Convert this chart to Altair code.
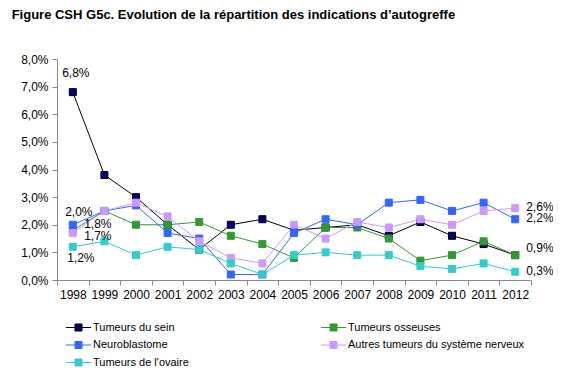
import altair as alt
import pandas as pd

years = [str(y) for y in range(1998, 2013)]
series_names = [
    "Tumeurs du sein",
    "Tumeurs osseuses",
    "Neuroblastome",
    "Autres tumeurs du système nerveux",
    "Tumeurs de l'ovaire",
]
sein = [6.8, 3.8, 3.0, 2.0, 1.1, 2.0, 2.2, 1.8, 1.9, 2.0, 1.6, 2.1, 1.6, 1.3, 0.9]
osseuses = [1.8, 2.5, 2.0, 2.0, 2.1, 1.6, 1.3, 0.8, 1.9, 1.9, 1.5, 0.7, 0.9, 1.4, 0.9]
neuro = [2.0, 2.5, 2.7, 1.7, 1.5, 0.2, 0.2, 1.7, 2.2, 2.0, 2.8, 2.9, 2.5, 2.8, 2.2]
autres = [1.7, 2.5, 2.8, 2.3, 1.4, 0.8, 0.6, 2.0, 1.5, 2.1, 1.9, 2.2, 2.0, 2.5, 2.6]
ovaire = [1.2, 1.4, 0.9, 1.2, 1.1, 0.6, 0.2, 0.9, 1.0, 0.9, 0.9, 0.5, 0.4, 0.6, 0.3]

line_colors = ["#000000", "#339933", "#3366FF", "#CC99FF", "#33CCCC"]
fill_colors = ["#000080", "#339933", "#3366FF", "#CC99FF", "#33CCCC"]

rows = []
for si, (name, vals) in enumerate(zip(series_names, [sein, osseuses, neuro, autres, ovaire])):
    for y, v in zip(years, vals):
        rows.append({"serie": name, "annee": y, "valeur": v, "ordre": si})
df = pd.DataFrame(rows)

# labels: (serie, year, text)
label_series = ["Tumeurs du sein", "Neuroblastome", "Tumeurs osseuses",
                "Autres tumeurs du système nerveux", "Tumeurs de l'ovaire",
                "Autres tumeurs du système nerveux", "Neuroblastome",
                "Tumeurs osseuses", "Tumeurs de l'ovaire"]
label_years = ["1998", "1998", "1998", "1998", "1998", "2012", "2012", "2012", "2012"]
label_texts = ["6,8%", "2,0%", "1,8%", "1,7%", "1,2%", "2,6%", "2,2%", "0,9%", "0,3%"]
label_offsets = [(3, -19, "center"), (6, -13, "center"), (25, -6, "center"),
                 (25, 3, "center"), (8, 11, "center"),
                 (11, -1, "left"), (11, -1, "left"), (11, -7, "left"), (11, -1, "left")]

lab_rows = []
for i, (s, y, t) in enumerate(zip(label_series, label_years, label_texts)):
    v = df[(df.serie == s) & (df.annee == y)].valeur.iloc[0]
    lab_rows.append({"k": i, "serie": s, "annee": y, "valeur": v, "txt": t})
lab_df = pd.DataFrame(lab_rows)

FONT = "Liberation Sans"

x_enc = alt.X("annee:O", title=None,
              scale=alt.Scale(type="band", paddingInner=0, paddingOuter=0),
              axis=alt.Axis(labelAngle=0, tickBand="extent", domainColor="#888888",
                            tickColor="#888888", tickSize=5, labelFontSize=12,
                            labelFont=FONT, labelColor="#000000", labelPadding=4,
                            grid=False))
y_enc = alt.Y("valeur:Q", title=None,
              scale=alt.Scale(domain=[0, 8], nice=False),
              axis=alt.Axis(values=[0, 1, 2, 3, 4, 5, 6, 7, 8],
                            labelExpr="replace(format(datum.value, '.1f'), '.', ',') + '%'",
                            domainColor="#888888", tickColor="#888888", tickSize=5,
                            labelFontSize=12, labelFont=FONT, labelColor="#000000",
                            labelPadding=4, grid=False))

sym_path = "M-3.6,0L3.6,0M-1,-1L1,-1L1,1L-1,1Z"

legend = alt.Legend(title=None, orient="none", legendX=4, legendY=263, columns=2,
                    direction="horizontal",
                    columnPadding=127, rowPadding=5.5, symbolType=sym_path,
                    symbolSize=49, symbolStrokeWidth=1, symbolOffset=12,
                    labelOffset=9, labelFontSize=11, labelFont=FONT,
                    labelColor="#000000", labelLimit=300)

lines = alt.Chart(df).mark_line(strokeWidth=1).encode(
    x=x_enc, y=y_enc,
    detail="serie:N",
    stroke=alt.Stroke("serie:N", sort=series_names,
                      scale=alt.Scale(domain=series_names, range=line_colors),
                      legend=legend),
    order="ordre:Q",
)

points = alt.Chart(df).mark_point(shape="square", filled=True, size=49,
                                   strokeWidth=1, opacity=1).encode(
    x=x_enc, y=y_enc,
    fill=alt.Fill("serie:N", sort=series_names,
                  scale=alt.Scale(domain=series_names, range=fill_colors),
                  legend=legend),
    stroke=alt.Stroke("serie:N", sort=series_names,
                      scale=alt.Scale(domain=series_names, range=line_colors),
                      legend=legend),
    order="ordre:Q",
)

text_layers = []
for i, (dx, dy, al) in enumerate(label_offsets):
    text_layers.append(
        alt.Chart(lab_df).transform_filter(alt.datum.k == i).mark_text(
            dx=dx, dy=dy, align=al, baseline="middle", fontSize=12, font=FONT,
            color="#000000").encode(x=x_enc, y=y_enc, text="txt:N")
    )

chart = alt.layer(lines, points, *text_layers).properties(
    width=474, height=221,
    autosize=alt.AutoSizeParams(type="none"),
    padding={"left": 49, "top": 51, "right": 22, "bottom": 92},
    title=alt.TitleParams(
        "Figure CSH G5c. Evolution de la répartition des indications d’autogreffe",
        anchor="start", fontSize=13, font=FONT, fontWeight="bold", color="#000000",
        dx=-9, offset=31),
).configure_view(stroke=None).resolve_scale(stroke="shared", fill="shared")

chart.save("out.html", embed_options={"renderer": "svg", "actions": False})
